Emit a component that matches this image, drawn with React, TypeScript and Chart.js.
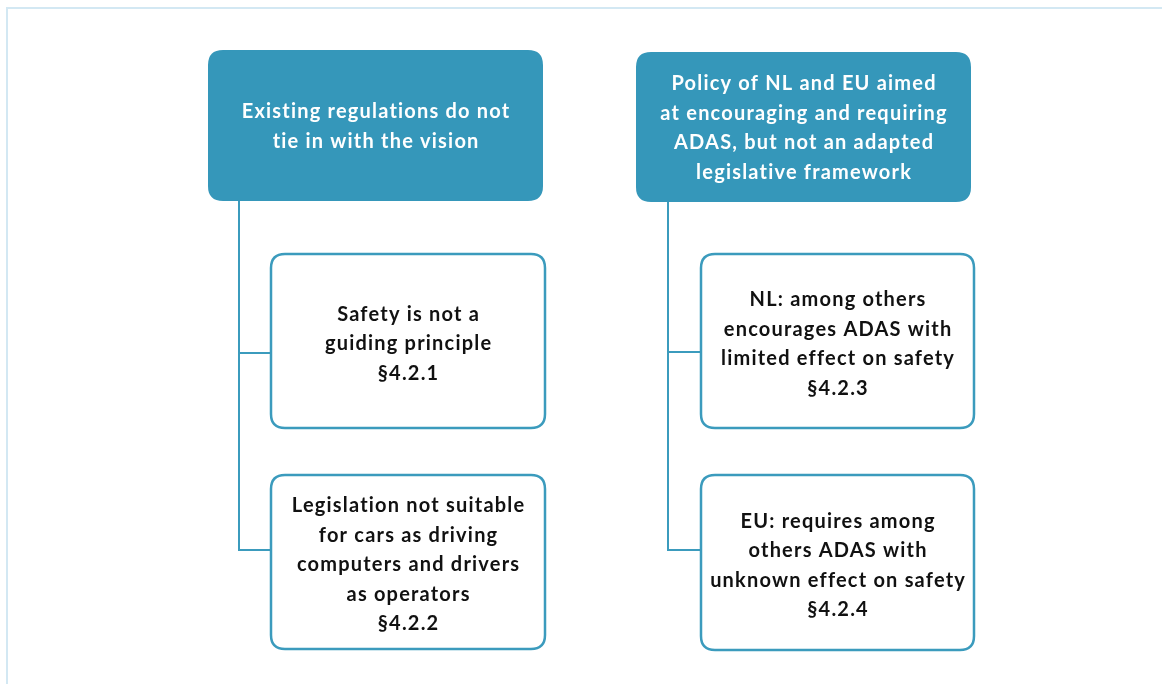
import React, { useEffect, useRef } from "react";
import { Chart, registerables } from "chart.js";

Chart.register(...registerables);

// Diagram content (data units = canvas pixels of a 1162 x 684 space)
const boxLabels: string[][] = [
  ["Existing regulations do not", "tie in with the vision"],
  ["Policy of NL and EU aimed", "at encouraging and requiring", "ADAS, but not an adapted", "legislative framework"],
  ["Safety is not a", "guiding principle", "§4.2.1"],
  ["Legislation not suitable", "for cars as driving", "computers and drivers", "as operators", "§4.2.2"],
  ["NL: among others", "encourages ADAS with", "limited effect on safety", "§4.2.3"],
  ["EU: requires among", "others ADAS with", "unknown effect on safety", "§4.2.4"],
];
const boxLeft = [208, 636, 271, 271, 701, 701];
const boxTop = [50, 52, 254, 475, 254, 475];
const boxRight = [543, 971, 545, 545, 974, 974];
const boxBottom = [201, 202, 428, 649, 428, 650];
const boxFilled = [true, true, false, false, false, false];

const connectors: number[][][] = [
  [[239, 201], [239, 550], [271, 550]],
  [[239, 353], [271, 353]],
  [[668, 202], [668, 550], [701, 550]],
  [[668, 352], [701, 352]],
];

const frame: number[][] = [[1162, 8], [7, 8], [7, 684]];

const ACCENT = "#3597ba";
const LINE = "#3b9bbd";
const FRAME = "#d3e8f3";

function roundRect(ctx: CanvasRenderingContext2D, x: number, y: number, w: number, h: number, r: number) {
  ctx.beginPath();
  ctx.moveTo(x + r, y);
  ctx.lineTo(x + w - r, y);
  ctx.quadraticCurveTo(x + w, y, x + w, y + r);
  ctx.lineTo(x + w, y + h - r);
  ctx.quadraticCurveTo(x + w, y + h, x + w - r, y + h);
  ctx.lineTo(x + r, y + h);
  ctx.quadraticCurveTo(x, y + h, x, y + h - r);
  ctx.lineTo(x, y + r);
  ctx.quadraticCurveTo(x, y, x + r, y);
  ctx.closePath();
}

const diagramPlugin = {
  id: "diagram",
  afterDatasetsDraw(chart: any) {
    const ctx: any = chart.ctx;
    const xs = chart.scales.x;
    const ys = chart.scales.y;
    const px = (v: number) => xs.getPixelForValue(v);
    const py = (v: number) => ys.getPixelForValue(v);
    ctx.save();

    // frame
    ctx.strokeStyle = FRAME;
    ctx.lineWidth = 2;
    ctx.beginPath();
    frame.forEach((p, i) => (i === 0 ? ctx.moveTo(px(p[0]), py(p[1])) : ctx.lineTo(px(p[0]), py(p[1]))));
    ctx.stroke();

    // connectors
    ctx.strokeStyle = LINE;
    ctx.lineWidth = 2;
    connectors.forEach((poly) => {
      ctx.beginPath();
      poly.forEach((p, i) => (i === 0 ? ctx.moveTo(px(p[0]), py(p[1])) : ctx.lineTo(px(p[0]), py(p[1]))));
      ctx.stroke();
    });

    // boxes
    boxLabels.forEach((lines, i) => {
      const x0 = px(boxLeft[i]);
      const x1 = px(boxRight[i]);
      const y0 = py(boxTop[i]);
      const y1 = py(boxBottom[i]);
      const filled = boxFilled[i];
      if (filled) {
        roundRect(ctx, x0, y0, x1 - x0, y1 - y0, 15);
        ctx.fillStyle = ACCENT;
        ctx.fill();
      } else {
        roundRect(ctx, x0, y0, x1 - x0, y1 - y0, 14);
        ctx.fillStyle = "#ffffff";
        ctx.fill();
        ctx.strokeStyle = LINE;
        ctx.lineWidth = 2.5;
        ctx.stroke();
      }
      ctx.fillStyle = filled ? "#ffffff" : "#111111";
      ctx.font = "bold 20px Lato";
      ctx.letterSpacing = "1.2px";
      ctx.textAlign = "center";
      ctx.textBaseline = "middle";
      const lh = 29.5;
      const cx = (x0 + x1) / 2 + 0.6;
      const cy = (y0 + y1) / 2 + (filled ? 1 : 3);
      const startY = cy - ((lines.length - 1) * lh) / 2;
      lines.forEach((t, j) => ctx.fillText(t, cx, startY + j * lh));
    });
    ctx.restore();
  },
};

export default function App() {
  const ref = useRef<HTMLCanvasElement | null>(null);
  useEffect(() => {
    if (!ref.current) return;
    const chart = new Chart(ref.current, {
      type: "scatter",
      data: {
        datasets: [
          {
            data: boxLabels.map((_, i) => ({ x: (boxLeft[i] + boxRight[i]) / 2, y: (boxTop[i] + boxBottom[i]) / 2 })),
            pointRadius: 0,
            pointHoverRadius: 0,
          },
        ],
      },
      options: {
        responsive: false,
        devicePixelRatio: 1,
        animation: false,
        layout: { padding: 0 },
        events: [],
        plugins: { legend: { display: false }, tooltip: { enabled: false } },
        scales: {
          x: { type: "linear", min: 0, max: 1162, display: false },
          y: { type: "linear", min: 0, max: 684, reverse: true, display: false },
        },
      },
      plugins: [diagramPlugin],
    });
    return () => chart.destroy();
  }, []);
  return (
    <div style={{ position: "absolute", left: 0, top: 0, width: 1162, height: 684, background: "#ffffff" }}>
      <canvas ref={ref} width={1162} height={684} style={{ width: 1162, height: 684, display: "block" }} />
    </div>
  );
}
